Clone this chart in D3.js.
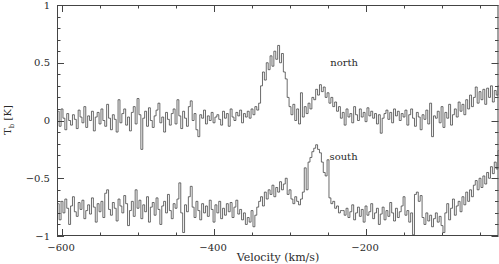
<!DOCTYPE html>
<html>
<head>
<meta charset="utf-8">
<script src="https://cdn.jsdelivr.net/npm/d3@7"></script>
<style>
  html, body { margin: 0; padding: 0; background: #fff; }
  svg { display: block; }
  text { font-family: "DejaVu Serif", "Liberation Serif", serif; fill: #2a2a2a; }
</style>
</head>
<body>
<svg id="chart" width="499" height="264"></svg>
<script>
// Channel grid (km/s)
const channelStart = -605;
const channelWidth = 2.5;

// Brightness temperature, north pointing (K)
const north = [
  0.08, -0.05, 0.1, 0.02, -0.08, 0.06, 0.0, -0.04, 0.05, 0.01,
  -0.07, 0.09, 0.03, -0.02, 0.12, -0.06, 0.04, 0.0, 0.08, -0.09,
  0.03, 0.07, -0.03, 0.1, 0.0, -0.05, 0.14, 0.02, -0.08, 0.05,
  0.01, -0.1, 0.18, -0.02, 0.06, 0.1, -0.04, 0.03, -0.09, 0.07,
  0.12, -0.03, 0.19, 0.05, -0.25, 0.02, 0.08, -0.05, 0.11, 0.0,
  -0.06, 0.04, 0.09, 0.15, -0.02, 0.03, -0.1, 0.07, 0.01, -0.04,
  0.06, 0.1, -0.03, 0.18, 0.04, -0.07, 0.08, 0.02, -0.05, 0.12,
  0.17, 0.0, 0.06, -0.08, -0.14, 0.05, 0.02, 0.09, -0.03, 0.04,
  0.0, 0.07, -0.02, 0.03, 0.05, 0.01, -0.04, 0.08, 0.02, 0.06,
  -0.05, 0.1, 0.03, 0.0, 0.07, 0.04, 0.09, -0.02, 0.06, 0.03,
  0.08, 0.02, 0.1, 0.05, 0.12, 0.09, 0.15, 0.3, 0.42, 0.35,
  0.5, 0.44, 0.56, 0.47, 0.6, 0.53, 0.65, 0.5, 0.58, 0.42,
  0.36, 0.2, 0.12, 0.05, 0.14, 0.0, 0.1, -0.03, 0.24, 0.03,
  0.12, 0.06, 0.15, 0.1, 0.2, 0.18, 0.27, 0.22, 0.31, 0.25,
  0.29, 0.2, 0.24, 0.15, 0.2, 0.12, 0.16, 0.08, 0.12, 0.02,
  0.07, -0.04, 0.1, 0.03, 0.06, -0.02, 0.12, 0.05, 0.0, 0.1,
  0.03, 0.07, -0.01, 0.11, 0.04, 0.08, 0.02, 0.06, -0.03, 0.05,
  -0.11, 0.02, 0.06, 0.09, 0.01, 0.07, -0.02, 0.1, 0.04, 0.08,
  0.0, 0.06, 0.03, 0.09, -0.04, 0.05, 0.1, 0.02, -0.05, 0.07,
  0.03, -0.08, 0.05, 0.01, 0.09, -0.03, 0.15, -0.14, 0.04, 0.02,
  0.08, -0.02, 0.12, -0.06, 0.07, 0.02, 0.14, -0.04, 0.05, 0.1,
  0.03, 0.16, 0.08, 0.14, 0.05, 0.18, 0.1, 0.22, 0.12, 0.2,
  0.29, 0.15, 0.25, 0.18, 0.27, 0.14, 0.28, 0.2, 0.3, 0.16,
  0.26, 0.22, 0.3
];

// Brightness temperature, south pointing (K, offset in plot)
const south = [
  -0.72, -0.86, -0.7, -0.8, -0.68, -0.76, -0.9, -0.74, -0.66, -0.79,
  -0.83, -0.71, -0.77, -0.69, -0.85, -0.78, -0.73, -0.81, -0.67, -0.75,
  -0.88, -0.72, -0.79, -0.7, -0.84, -0.63, -0.6, -0.77, -0.82, -0.71,
  -0.76, -0.87, -0.68, -0.74, -0.8, -0.65, -0.72, -0.91, -0.78, -0.7,
  -0.83, -0.6, -0.76, -0.69, -0.85, -0.73, -0.79, -0.66, -0.88, -0.75,
  -0.71, -0.82, -0.67, -0.77, -0.9, -0.74, -0.7, -0.8, -0.64, -0.78,
  -0.85, -0.72, -0.76, -0.68, -0.54, -0.8, -0.97, -0.73, -0.79, -0.66,
  -0.57, -0.75, -0.84, -0.7, -0.78, -0.86, -0.72, -0.8, -0.74, -0.83,
  -0.69, -0.77, -0.88, -0.73, -0.8, -0.7, -0.85, -0.76, -0.82, -0.72,
  -0.79, -0.71, -0.84, -0.75, -0.69, -0.81, -0.77, -0.86, -0.8, -0.9,
  -0.84, -0.88, -0.78, -0.92, -0.82, -0.75, -0.7, -0.66, -0.74, -0.62,
  -0.68, -0.6, -0.64, -0.56, -0.66, -0.58, -0.62, -0.53, -0.6, -0.55,
  -0.5, -0.64, -0.6, -0.68, -0.72, -0.66, -0.7, -0.73, -0.68, -0.62,
  -0.41, -0.6, -0.36, -0.32, -0.27, -0.24, -0.21, -0.25, -0.28, -0.36,
  -0.45, -0.48, -0.34, -0.67, -0.72, -0.7, -0.76, -0.74, -0.8, -0.78,
  -0.78, -0.82, -0.76, -0.84, -0.79, -0.73, -0.86, -0.8, -0.75, -0.83,
  -0.77, -0.88, -0.74, -0.82, -0.79, -0.72, -0.85, -0.8, -0.76, -0.9,
  -0.81, -0.75, -0.86, -0.78, -0.83, -0.71, -0.8, -0.87, -0.76, -0.84,
  -0.79, -0.74, -0.66, -0.82, -0.78, -0.88, -0.8, -0.99, -0.64, -0.62,
  -0.7, -0.65, -0.84, -0.9, -0.8, -0.87, -0.82, -0.92, -0.85, -0.8,
  -0.88, -0.83, -0.91, -0.97, -0.8, -0.72, -0.86, -0.76, -0.68, -0.82,
  -0.74, -0.7, -0.79, -0.66, -0.73, -0.62, -0.7, -0.6, -0.66, -0.56,
  -0.52, -0.6, -0.5, -0.58, -0.48, -0.55, -0.45, -0.5, -0.4, -0.46,
  -0.36, -0.42, -0.26
];

// Tick values and labels
const xMajorTicks = [-600, -400, -200];
const xMajorLabels = ["\u2212600", "\u2212400", "\u2212200"];
const yMajorTicks = [-1, -0.5, 0, 0.5, 1];
const yMajorLabels = ["\u22121", "\u22120.5", "0", "0.5", "1"];
const seriesNames = ["north", "south"];
const seriesLabelV = [-247, -248];
const seriesLabelT = [0.5, -0.31];

const svg = d3.select("#chart");
const L = 57, R = 498.5, T = 5, B = 236;

const x = d3.scaleLinear().domain([-606.6, -25.7]).range([L, R]);
const y = d3.scaleLinear().domain([-1, 1]).range([B, T]);

const xMinor = d3.range(-600, -20, 50);
const yMinor = d3.range(-10, 11).map(d => d / 10);

svg.append("defs").append("clipPath").attr("id", "clip")
  .append("rect").attr("x", L).attr("y", T).attr("width", R - L).attr("height", B - T);

const frameColor = "#444";
const g = svg.append("g");

// Ticks (inward, all four sides)
function tickLen(isMajor) { return isMajor ? 7 : 3.5; }
xMinor.forEach(v => {
  const maj = xMajorTicks.includes(v);
  const px = Math.round(x(v)) + 0.5;
  g.append("line").attr("x1", px).attr("x2", px).attr("y1", B).attr("y2", B - tickLen(maj))
    .attr("stroke", frameColor).attr("stroke-width", 1);
  g.append("line").attr("x1", px).attr("x2", px).attr("y1", T).attr("y2", T + tickLen(maj))
    .attr("stroke", frameColor).attr("stroke-width", 1);
});
yMinor.forEach(t => {
  const maj = Math.abs(t * 2 - Math.round(t * 2)) < 1e-6;
  const py = Math.round(y(t)) + 0.5;
  g.append("line").attr("x1", L).attr("x2", L + tickLen(maj)).attr("y1", py).attr("y2", py)
    .attr("stroke", frameColor).attr("stroke-width", 1);
  g.append("line").attr("x1", R).attr("x2", R - tickLen(maj)).attr("y1", py).attr("y2", py)
    .attr("stroke", frameColor).attr("stroke-width", 1);
});

// Frame
g.append("rect").attr("x", L + 0.5).attr("y", T + 0.5)
  .attr("width", R - L - 1).attr("height", B - T - 1)
  .attr("fill", "none").attr("stroke", frameColor).attr("stroke-width", 1);

// Tick labels
xMajorTicks.forEach((v, i) => {
  svg.append("text").attr("x", x(v) - 1).attr("y", 251)
    .attr("text-anchor", "middle").attr("font-size", 10).text(xMajorLabels[i]);
});
yMajorTicks.forEach((t, i) => {
  svg.append("text").attr("x", 50).attr("y", y(t) + 3.5)
    .attr("text-anchor", "end").attr("font-size", 10).text(yMajorLabels[i]);
});

// Axis titles
svg.append("text").attr("x", 278).attr("y", 261)
  .attr("text-anchor", "middle").attr("font-size", 11).text("Velocity (km/s)");
const yl = svg.append("text").attr("transform", "translate(11,120) rotate(-90)")
  .attr("text-anchor", "middle").attr("font-size", 10);
yl.append("tspan").text("T");
yl.append("tspan").attr("font-size", 7).attr("dy", 2.5).text("b");
yl.append("tspan").attr("dy", -2.5).text(" [K]");

// Spectra
const line = d3.line()
  .x((d, i) => x(channelStart + i * channelWidth))
  .y(d => y(d))
  .curve(d3.curveStep);

const plot = svg.append("g").attr("clip-path", "url(#clip)");
[north, south].forEach(s => {
  plot.append("path").datum(s).attr("d", line)
    .attr("fill", "none").attr("stroke", "#3a3a3a").attr("stroke-width", 0.75);
});

// Series labels
seriesNames.forEach((name, i) => {
  svg.append("text").attr("x", x(seriesLabelV[i])).attr("y", y(seriesLabelT[i]) + 3.5)
    .attr("text-anchor", "start").attr("font-size", 10).text(name);
});
</script>
</body>
</html>
